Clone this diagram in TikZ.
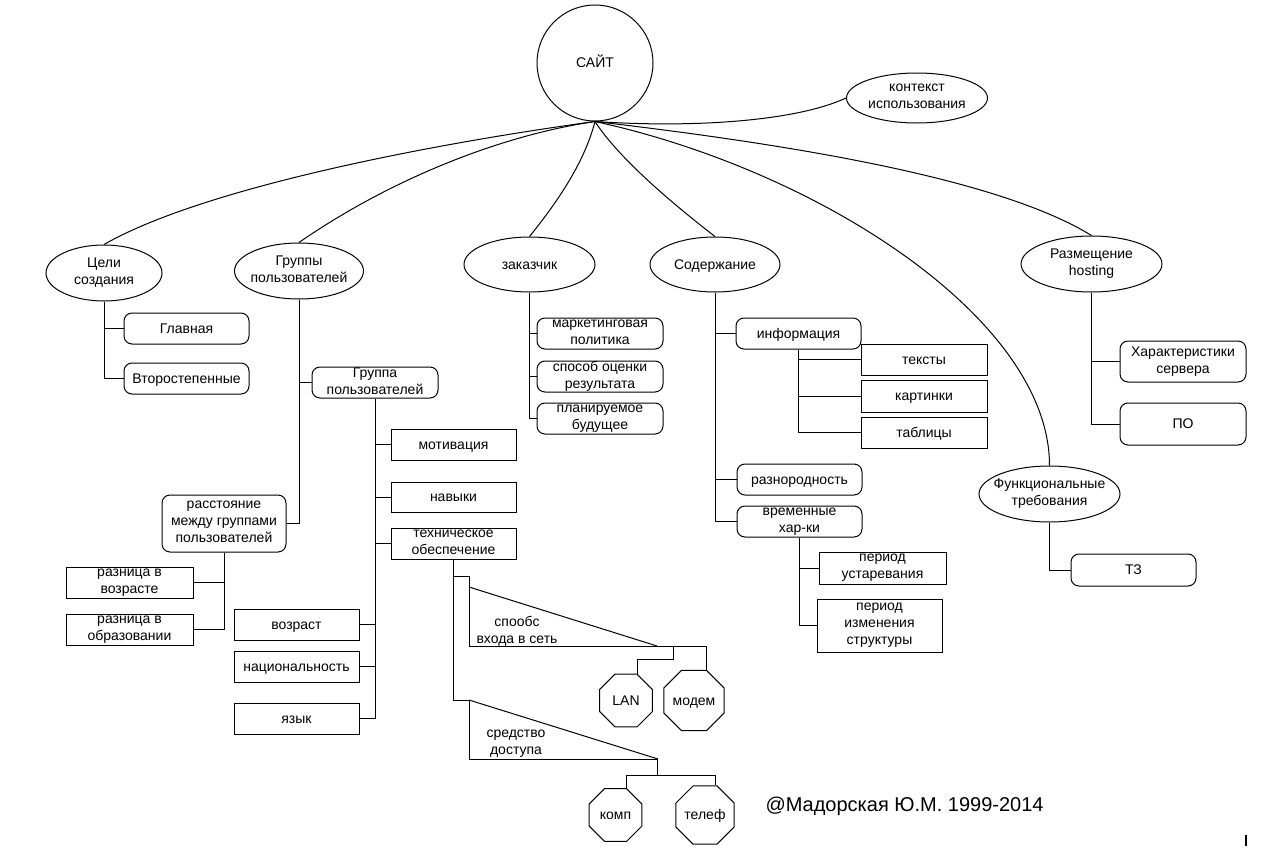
\documentclass[tikz,border=0pt]{standalone}
\usepackage{fontspec}
\setmainfont{Liberation Sans}
\usetikzlibrary{shapes.geometric,calc}
\begin{document}
\begin{tikzpicture}[x=0.75pt,y=-0.75pt,line width=0.75pt,
  every node/.style={font=\fontsize{10.5}{12.75}\selectfont,align=center,inner sep=0pt,
    text depth=2.2pt,execute at begin node={\rule{0pt}{9.5pt}}},
  ml/.style={execute at begin node={\rule{0pt}{12.5pt}}},
  sz/.style 2 args={minimum width=#1*0.75pt,minimum height=#2*0.75pt},
  ell/.style={draw,ellipse},
  rbox/.style={draw,rectangle,rounded corners=6pt},
  sbox/.style={draw,rectangle},
  oct/.style={draw,regular polygon,regular polygon sides=8,minimum size=43pt}]
\useasboundingbox (0,0) rectangle (1265,853);

% root and top level
\node[draw,circle,minimum size=87pt] (site) at (595,63) {САЙТ};
\node[ell,sz={141}{50},label={[ml]center:контекст\\использования}] (ctx) at (917,98) {};
\node[ell,sz={116}{56},label={[ml]center:Цели\\создания}] (goal) at (104,273) {};
\node[ell,sz={129}{56},label={[ml]center:Группы\\пользователей}] (groups) at (299,271) {};
\node[ell,sz={131}{55},label={center:заказчик}] (cust) at (529.5,264.5) {};
\node[ell,sz={130}{55},label={center:Содержание}] (cont) at (715,264.5) {};
\node[ell,sz={141}{56},label={[ml]center:Размещение\\hosting}] (host) at (1091.5,264) {};
\node[ell,sz={141}{56},label={[ml]center:Функциональные\\требования}] (func) at (1049.5,494) {};

% curved connectors
\draw (site.south) .. controls +(-175,24) and +(96,-55) .. (goal.north);
\draw (site.south) .. controls +(-95,14) and +(91,-63) .. (groups.north);
\draw (site.south) .. controls +(-10,39) and +(30,-37) .. (cust.north);
\draw (site.south) .. controls +(25,39) and +(-35,-27) .. (cont.north);
\draw (site.south) .. controls +(105,7) and +(-47,22) .. (ctx.west);
\draw (site.south) .. controls +(205,24) and +(-91,-56) .. (host.north);
\draw (site.south) .. controls +(225,49) and +(0,-146) .. (func.north);

% Цели
\node[rbox,sz={125}{31}] (glav) at (186.5,328.5) {Главная};
\node[rbox,sz={125}{31}] (vtor) at (186.5,378.5) {Второстепенные};
\draw (goal.south) |- (glav.west);
\draw (goal.south) |- (vtor.west);

% Группы
\node[rbox,ml,sz={126}{31}] (grp) at (375,382.5) {Группа\\пользователей};
\node[rbox,ml,sz={124}{57}] (dist) at (224,523.5) {расстояние\\между группами\\пользователей};
\draw (groups.south) |- (grp.west);
\draw (groups.south) |- (dist.east);

\node[sbox,sz={125}{31}] (mot) at (453.5,444.5) {мотивация};
\node[sbox,sz={125}{30}] (skills) at (453.5,497) {навыки};
\node[sbox,ml,sz={125}{31}] (tech) at (453.5,543.5) {техническое\\обеспечение};
\node[sbox,sz={125}{31}] (age) at (296.5,624.5) {возраст};
\node[sbox,sz={125}{31}] (nat) at (296.5,666.5) {национальность};
\node[sbox,sz={125}{31}] (lang) at (296.5,718.5) {язык};
\draw (grp.south) |- (mot.west);
\draw (grp.south) |- (skills.west);
\draw (grp.south) |- (tech.west);
\draw (grp.south) |- (age.east);
\draw (grp.south) |- (nat.east);
\draw (grp.south) |- (lang.east);

\node[sbox,ml,sz={127}{31}] (r1) at (129.5,582.5) {разница в\\возрасте};
\node[sbox,ml,sz={127}{31}] (r2) at (129.5,629.5) {разница в\\образовании};
\draw (dist.south) |- (r1.east);
\draw (dist.south) |- (r2.east);

% техническое обеспечение
\coordinate (n0) at (469,576);
\coordinate (nA) at (469,587);
\coordinate (nC) at (469,646);
\coordinate (nB) at (657,646);
\coordinate (nJ) at (673,646);
\coordinate (nE) at (706,646);
\draw (tech.south) |- (n0) -- (nC) -- (nE);
\draw (nA) -- (nB);
\node[ml] (netlbl) at (517,631) {спообс\\входа в сеть};
\node[oct] (lan) at (626,700.5) {LAN};
\node[oct] (modem) at (694,700.5) {модем};
\draw (nJ) -- ++(0,13) -| ($(lan.north)+(11,0)$);
\draw (nE) -- (nE |- modem.north);

\coordinate (a0) at (469,700);
\coordinate (aC) at (469,759);
\coordinate (aB) at (658,759);
\coordinate (aJ) at (657,759);
\draw (tech.south) |- (a0) -- (aC) -- (aB);
\draw (a0) -- (aB);
\node[ml] (acclbl) at (516,744) {средство\\доступа};
\node[oct] (comp) at (615.5,815) {комп};
\node[oct] (tel) at (705,815) {телеф};
\draw (aJ) -- ++(0,16) -| ($(comp.north)+(10.5,0)$);
\draw (aJ) ++(0,16) -| ($(tel.north)+(10,0)$);

% заказчик
\node[rbox,ml,sz={126}{31}] (mkt) at (600,333.5) {маркетинговая\\политика};
\node[rbox,ml,sz={126}{31}] (eval) at (600,376.5) {способ оценки\\результата};
\node[rbox,ml,sz={126}{31}] (plan) at (600,418.5) {планируемое\\будущее};
\draw (cust.south) |- (mkt.west);
\draw (cust.south) |- (eval.west);
\draw (cust.south) |- (plan.west);

% Содержание
\node[rbox,sz={125}{31}] (info) at (798.5,333.5) {информация};
\node[rbox,sz={125}{31}] (het) at (799.5,479.5) {разнородность};
\node[rbox,ml,sz={125}{31}] (time) at (799.5,521.5) {временные\\хар-ки};
\draw (cont.south) |- (info.west);
\draw (cont.south) |- (het.west);
\draw (cont.south) |- (time.west);

\node[sbox,sz={126}{31}] (txt) at (924,359.5) {тексты};
\node[sbox,sz={126}{32}] (pic) at (924,396) {картинки};
\node[sbox,sz={126}{31}] (tab) at (924,432.5) {таблицы};
\draw (info.south) |- (txt.west);
\draw (info.south) |- (pic.west);
\draw (info.south) |- (tab.west);

\node[sbox,ml,sz={127}{32}] (p1) at (882.5,568) {период\\устаревания};
\node[sbox,ml,sz={125}{53}] (p2) at (879.5,625.5) {период\\изменения\\структуры};
\draw (time.south) |- (p1.west);
\draw (time.south) |- (p2.west);

% Размещение
\node[rbox,ml,sz={126}{41}] (srv) at (1183,361.5) {Характеристики\\сервера};
\node[rbox,sz={126}{42}] (po) at (1183,424) {ПО};
\draw (host.south) |- (srv.west);
\draw (host.south) |- (po.west);

% Функциональные требования
\node[rbox,sz={125}{32}] (tz) at (1133.5,570) {ТЗ};
\draw (func.south) |- (tz.west);

% copyright
\node[anchor=base west,font=\fontsize{15}{18}\selectfont,execute at begin node={}] (copy) at (765,811) {@Мадорская Ю.М. 1999-2014};
\draw[line width=1.5pt] (1246,835) -- (1246,846);
\end{tikzpicture}
\end{document}
